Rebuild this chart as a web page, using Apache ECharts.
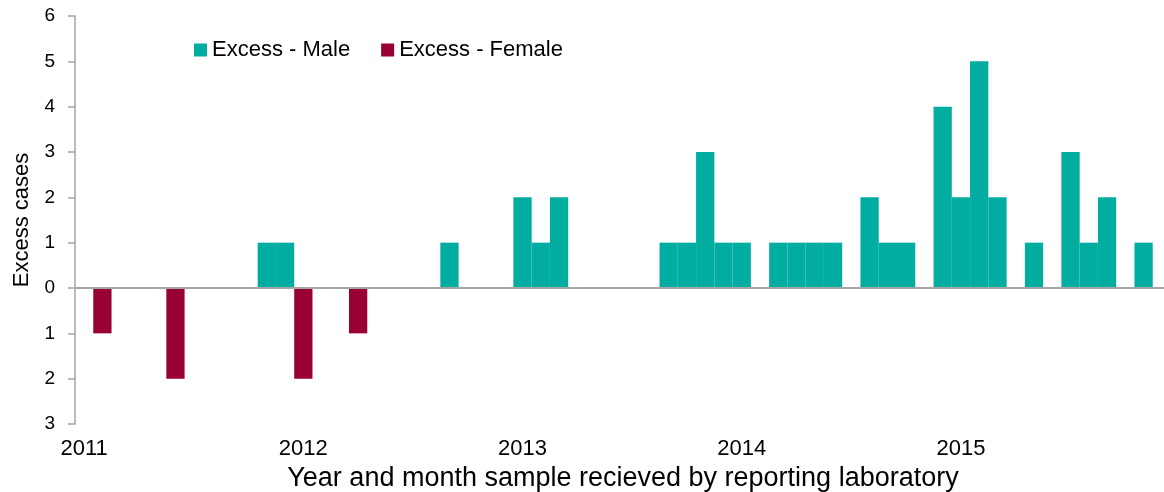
<!DOCTYPE html>
<html>
<head>
<meta charset="utf-8">
<script src="https://cdn.jsdelivr.net/npm/echarts@6/dist/echarts.min.js"></script>
<style>
html,body{margin:0;padding:0;background:#fff;}
#chart{width:1164px;height:492px;}
</style>
</head>
<body>
<div id="chart"></div>
<script>
// Tick labels / categories
var years = ['2011', '2012', '2013', '2014', '2015'];
var months = ['Jan', 'Feb', 'Mar', 'Apr', 'May', 'Jun', 'Jul', 'Aug', 'Sep', 'Oct', 'Nov', 'Dec'];

// Excess cases per month (null = none)
var maleExcess = [
  null, null, null, null, null, null, null, null, null, null, 1, 1,      // 2011
  null, null, null, null, null, null, null, null, 1, null, null, null,   // 2012
  2, 1, 2, null, null, null, null, null, 1, 1, 3, 1,                     // 2013
  1, null, 1, 1, 1, 1, null, 2, 1, 1, null, 4,                           // 2014
  2, 5, 2, null, 1, null, 3, 1, 2, null, 1, null                         // 2015
];
var femaleExcess = [
  null, 1, null, null, null, 2, null, null, null, null, null, null,      // 2011
  2, null, null, 1, null, null, null, null, null, null, null, null,      // 2012
  null, null, null, null, null, null, null, null, null, null, null, null,// 2013
  null, null, null, null, null, null, null, null, null, null, null, null,// 2014
  null, null, null, null, null, null, null, null, null, null, null, null // 2015
];

var categories = [];
years.forEach(function (y) { months.forEach(function (m) { categories.push(y + ' ' + m); }); });

var FONT = '"Liberation Sans", Arial, sans-serif';
var axisGray = '#a6a6a6';

var chart = echarts.init(document.getElementById('chart'), null, { renderer: 'canvas' });
chart.setOption({
  animation: false,
  backgroundColor: '#ffffff',
  textStyle: { fontFamily: FONT, color: '#000' },
  legend: {
    left: 194,
    top: 39,
    padding: 0,
    icon: 'rect',
    itemWidth: 13,
    itemHeight: 13,
    itemGap: 31,
    textStyle: { fontFamily: FONT, fontSize: 22, color: '#000' },
    data: ['Excess - Male', 'Excess - Female']
  },
  grid: { left: 75, top: 16, width: 1096, height: 408, containLabel: false, outerBoundsMode: 'none' },
  xAxis: {
    type: 'category',
    data: categories,
    axisLine: { show: false, onZero: false },
    axisTick: { show: false },
    axisLabel: {
      interval: 0,
      margin: 14,
      fontFamily: FONT,
      fontSize: 22,
      color: '#000',
      formatter: function (v) { return v.slice(5) === 'Jan' ? v.slice(0, 4) : ''; }
    },
    name: 'Year and month sample recieved by reporting laboratory',
    nameLocation: 'middle',
    nameGap: 38,
    nameTextStyle: { fontFamily: FONT, fontSize: 27, color: '#000' }
  },
  yAxis: {
    type: 'value',
    min: -3,
    max: 6,
    interval: 1,
    splitLine: { show: false },
    axisLine: { show: true, lineStyle: { color: axisGray, width: 1.5 } },
    axisTick: { show: true, length: 7, lineStyle: { color: axisGray, width: 1.5 } },
    axisLabel: {
      margin: 20,
      fontFamily: FONT,
      fontSize: 19,
      color: '#000',
      formatter: function (v) { return String(Math.abs(v)); }
    },
    name: 'Excess cases',
    nameLocation: 'middle',
    nameRotate: 90,
    nameGap: 42,
    nameTextStyle: { fontFamily: FONT, fontSize: 22, color: '#000' }
  },
  series: [
    {
      name: 'Excess - Male',
      type: 'bar',
      stack: 'excess',
      barCategoryGap: 0,
      itemStyle: { color: '#00ada0' },
      data: maleExcess,
      markLine: {
        silent: true,
        symbol: ['none', 'none'],
        label: { show: false },
        lineStyle: { color: axisGray, width: 2, type: 'solid' },
        data: [{ yAxis: 0 }],
        z: 5
      }
    },
    {
      name: 'Excess - Female',
      type: 'bar',
      stack: 'excess',
      barCategoryGap: 0,
      itemStyle: { color: '#990033' },
      data: femaleExcess.map(function (v) { return v == null ? null : -v; })
    }
  ]
});
</script>
</body>
</html>
